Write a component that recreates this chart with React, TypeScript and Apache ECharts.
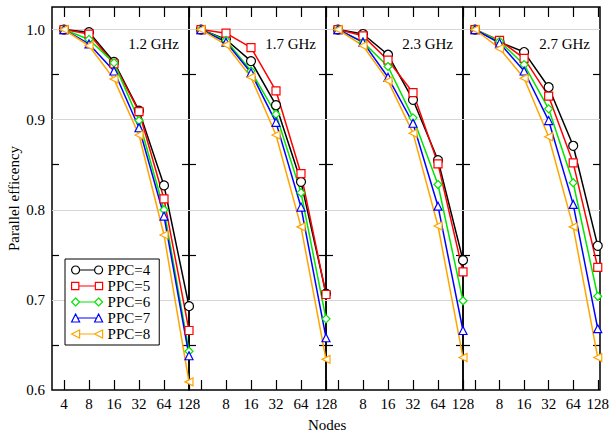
import React, { useEffect, useRef } from 'react';
import * as echarts from 'echarts';

const nodes = ['4', '8', '16', '32', '64', '128'];
const frequencies = ['1.2 GHz', '1.7 GHz', '2.3 GHz', '2.7 GHz'];
const ppcLabels = ['PPC=4', 'PPC=5', 'PPC=6', 'PPC=7', 'PPC=8'];

// parallel efficiency per PPC (rows) over nodes (columns)
const eff12GHz = [
  [1.0, 0.997, 0.964, 0.91, 0.827, 0.693],
  [1.0, 0.995, 0.962, 0.909, 0.812, 0.666],
  [1.0, 0.989, 0.963, 0.899, 0.8, 0.643],
  [1.0, 0.984, 0.954, 0.891, 0.793, 0.638],
  [1.0, 0.982, 0.945, 0.883, 0.772, 0.609],
];
const eff17GHz = [
  [1.0, 0.989, 0.965, 0.916, 0.831, 0.707],
  [1.0, 0.996, 0.98, 0.932, 0.84, 0.706],
  [1.0, 0.988, 0.954, 0.906, 0.819, 0.679],
  [1.0, 0.986, 0.952, 0.897, 0.803, 0.658],
  [1.0, 0.983, 0.947, 0.883, 0.781, 0.634],
];
const eff23GHz = [
  [1.0, 0.995, 0.972, 0.922, 0.855, 0.744],
  [1.0, 0.993, 0.966, 0.93, 0.851, 0.731],
  [1.0, 0.986, 0.959, 0.902, 0.828, 0.699],
  [1.0, 0.986, 0.947, 0.896, 0.804, 0.666],
  [1.0, 0.982, 0.943, 0.885, 0.782, 0.636],
];
const eff27GHz = [
  [1.0, 0.986, 0.975, 0.936, 0.871, 0.76],
  [1.0, 0.988, 0.968, 0.926, 0.852, 0.736],
  [1.0, 0.987, 0.961, 0.912, 0.83, 0.704],
  [1.0, 0.985, 0.954, 0.899, 0.806, 0.668],
  [1.0, 0.979, 0.946, 0.881, 0.781, 0.636],
];
const effByFreq = [eff12GHz, eff17GHz, eff23GHz, eff27GHz];
const yMinorTicks = [0.65, 0.75, 0.85, 0.95];

const colors = ['#000000', '#ff0000', '#00e600', '#0000ff', '#ffa500'];
const symbols = ['circle', 'rect', 'diamond', 'triangle', 'triangle'];
const rotates = [0, 0, 0, 0, 90];
const legendIcons = [
  'path://M0,4A4,4 0 1,1 8,4A4,4 0 1,1 0,4ZM8,4L23,4M23,4A4,4 0 1,1 31,4A4,4 0 1,1 23,4Z',
  'path://M0.5,0.5H7.5V7.5H0.5ZM7.5,4H23.5M23.5,0.5H30.5V7.5H23.5Z',
  'path://M4,0L8,4L4,8L0,4ZM8,4H23M27,0L31,4L27,8L23,4Z',
  'path://M4,0L8,8L0,8ZM6,4H25M27,0L31,8L23,8Z',
  'path://M0,4L8,0L8,8ZM8,4H23M23,4L31,0L31,8Z',
];

export default function App() {
  const ref = useRef<HTMLDivElement>(null);
  useEffect(() => {
    const chart = echarts.init(ref.current!, null, { renderer: 'svg' });
    const FONT = 'Liberation Serif';
    const L0 = 52, PW = 137, TOP = 7, H = 383, INSET = 12;
    const YMIN = 0.6, YMAX = 1.025;
    const grid: any[] = [], xAxis: any[] = [], yAxis: any[] = [], series: any[] = [], title: any[] = [];
    const tickStyle = { color: '#000', width: 1.2 };

    frequencies.forEach((f, p) => {
      const left = L0 + PW * p;
      const gFrame = grid.length;
      grid.push({ left, top: TOP, width: PW, height: H, show: true, borderColor: '#000', borderWidth: 1.5, backgroundColor: 'transparent' });
      const gData = grid.length;
      grid.push({ left: left + INSET, top: TOP, width: PW - INSET, height: H, show: false });

      xAxis.push({ gridIndex: gFrame, type: 'value', min: 0, max: 1, show: false });
      // gridlines + labels
      yAxis.push({
        gridIndex: gFrame, type: 'value', min: YMIN, max: YMAX, interval: 0.1, position: 'left',
        axisLine: { show: false },
        axisTick: { show: false },
        axisLabel: p === 0 ? {
          show: true, showMaxLabel: false, margin: 7, fontFamily: FONT, fontSize: 15, color: '#000',
          formatter: (v: number) => v.toFixed(1),
        } : { show: false },
        splitLine: { show: true, showMinLine: false, showMaxLine: false, lineStyle: { color: '#d6d6d6', width: 1 } },
        name: p === 0 ? 'Parallel efficency' : '',
        nameLocation: 'middle', nameGap: 31, nameRotate: 90,
        nameTextStyle: { fontFamily: FONT, fontSize: 15, color: '#000' },
      });
      ['left', 'right'].forEach((pos) => {
        yAxis.push({
          gridIndex: gFrame, type: 'value', min: YMIN, max: YMAX, interval: 0.05, position: pos,
          axisLine: { show: false },
          axisTick: { show: true, inside: true, length: 7, customValues: yMinorTicks, lineStyle: tickStyle },
          axisLabel: { show: false }, splitLine: { show: false },
        });
      });

      const xb = xAxis.length;
      xAxis.push({
        gridIndex: gData, type: 'category', data: nodes, boundaryGap: false, position: 'bottom',
        axisLine: { show: false },
        axisTick: { show: true, inside: true, length: 10, alignWithLabel: true, interval: 0, lineStyle: tickStyle },
        axisLabel: {
          show: true, interval: 0, margin: 6, fontFamily: FONT, fontSize: 15, color: '#000', hideOverlap: false,
          formatter: (v: string, i: number) => (p > 0 && i === 0 ? '' : v),
        },
        splitLine: { show: false },
      });
      xAxis.push({
        gridIndex: gData, type: 'category', data: nodes, boundaryGap: false, position: 'top',
        axisLine: { show: false },
        axisTick: { show: true, inside: true, length: 10, alignWithLabel: true, interval: 0, lineStyle: tickStyle },
        axisLabel: { show: false }, splitLine: { show: false },
      });
      const yd = yAxis.length;
      yAxis.push({ gridIndex: gData, type: 'value', min: YMIN, max: YMAX, show: false });

      effByFreq[p].forEach((vals, s) => {
        series.push({
          type: 'line', name: ppcLabels[s], xAxisIndex: xb, yAxisIndex: yd, data: vals,
          symbol: symbols[s], symbolSize: s === 0 ? 9 : 8, symbolRotate: rotates[s], showAllSymbol: true,
          clip: false,
          lineStyle: { color: colors[s], width: 1.5 },
          itemStyle: { color: '#fff', borderColor: colors[s], borderWidth: 1.2 },
          emphasis: { disabled: true },
        });
      });

      title.push({
        text: f, right: 612 - (left + PW - 10), top: 36, padding: 0,
        textStyle: { fontFamily: FONT, fontSize: 15, fontWeight: 'normal', color: '#000' },
      });
    });

    chart.setOption({
      animation: false,
      backgroundColor: '#fff',
      title,
      grid,
      xAxis,
      yAxis,
      series,
      legend: {
        orient: 'vertical', left: 65, top: 259, padding: [3, 9, 3, 6], itemGap: 0,
        itemWidth: 31, itemHeight: 8, borderColor: '#000', borderWidth: 1, backgroundColor: '#fff',
        selectedMode: false,
        textStyle: { fontFamily: FONT, fontSize: 15, color: '#000', lineHeight: 16 },
        data: ppcLabels.map((n, i) => ({
          name: n, icon: legendIcons[i],
          itemStyle: { color: '#fff', borderColor: colors[i], borderWidth: 1.2 },
        })),
      },
      graphic: [{
        type: 'text', left: 308, top: 417,
        style: { text: 'Nodes', fontFamily: FONT, fontSize: 15, fill: '#000' },
      }],
    });
    return () => chart.dispose();
  }, []);
  return <div ref={ref} style={{ position: 'fixed', left: 0, top: 0, width: 612, height: 435 }} />;
}
